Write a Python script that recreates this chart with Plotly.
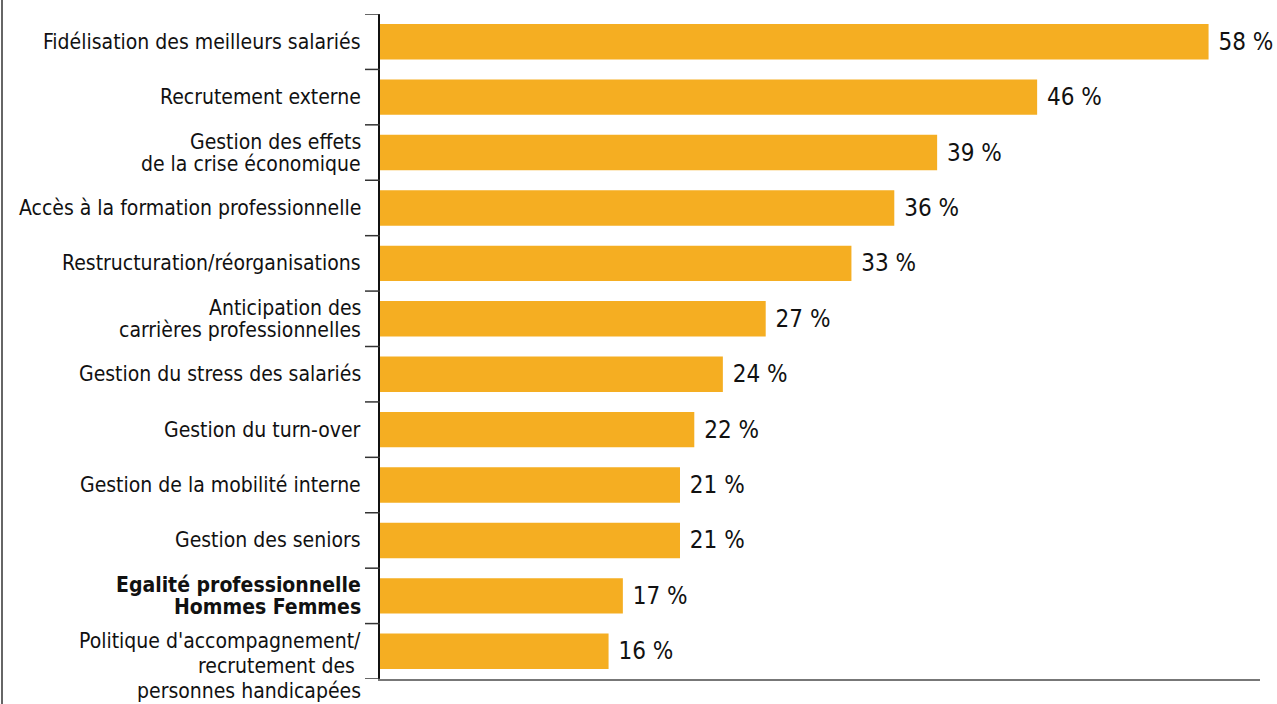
import plotly.graph_objects as go

categories = [
    ["Fidélisation des meilleurs salariés"],
    ["Recrutement externe"],
    ["Gestion des effets", "de la crise économique"],
    ["Accès à la formation professionnelle"],
    ["Restructuration/réorganisations"],
    ["Anticipation des", "carrières professionnelles"],
    ["Gestion du stress des salariés"],
    ["Gestion du turn-over"],
    ["Gestion de la mobilité interne"],
    ["Gestion des seniors"],
    ["<b>Egalité professionnelle</b>", "<b>Hommes Femmes</b>"],
    ["Politique d'accompagnement/", "recrutement des ", "personnes handicapées"],
]
values = [58, 46, 39, 36, 33, 27, 24, 22, 21, 21, 17, 16]

FONT = "DejaVu Sans Condensed"
LABEL_SIZE = 21
# per-line vertical layout (first offset, spacing) in px for multi-line labels
line_layout = {2: (-11, 22), 3: (-10, 25)}

n = len(categories)
fig = go.Figure()
fig.add_trace(go.Bar(
    y=list(range(n)),
    x=values,
    orientation="h",
    marker=dict(color="#F5AE22", line=dict(width=0)),
    width=0.64,
    text=[f"\u00a0{v} %" for v in values],
    textposition="outside",
    textfont=dict(family=FONT, size=24, color="#111"),
    cliponaxis=False,
    hoverinfo="skip",
))

annotations = []
for i, lines in enumerate(categories):
    if len(lines) == 1:
        offsets = [0]
    else:
        first, step = line_layout[len(lines)]
        offsets = [first + k * step for k in range(len(lines))]
    for line, off in zip(lines, offsets):
        annotations.append(dict(
            xref="paper", yref="y", x=0, y=i, xanchor="right", yanchor="middle",
            xshift=-17, yshift=-off, text=line, showarrow=False,
            font=dict(family=FONT, size=LABEL_SIZE, color="#111"),
        ))

fig.update_layout(
    width=1277, height=704,
    margin=dict(l=380, r=17, t=14, b=25, autoexpand=False),
    paper_bgcolor="white", plot_bgcolor="white",
    showlegend=False,
    font=dict(family=FONT, size=LABEL_SIZE, color="#111"),
    xaxis=dict(range=[0, 61.6], showticklabels=False, showgrid=False, zeroline=False,
               showline=True, linecolor="#777", linewidth=2, ticks="", automargin=False),
    yaxis=dict(
        range=[n - 0.5, -0.5],
        showticklabels=False, showgrid=False, zeroline=False,
        showline=True, linecolor="#111", linewidth=1.5,
        ticks="", automargin=False,
    ),
    annotations=annotations,
    shapes=[
        dict(type="line", xref="paper", yref="paper",
             x0=(2 - 380) / 880, x1=(2 - 380) / 880, y0=-25 / 665, y1=1 + 14 / 665,
             line=dict(color="#666", width=2)),
    ] + [
        dict(type="line", xref="paper", yref="y",
             x0=-15 / 880, x1=0, y0=i - 0.5, y1=i - 0.5,
             line=dict(color="#333", width=1.5))
        for i in range(n + 1)
    ],
)

fig.write_html("out.html", config={"displayModeBar": False},
               post_script="document.body.style.margin='0';")
